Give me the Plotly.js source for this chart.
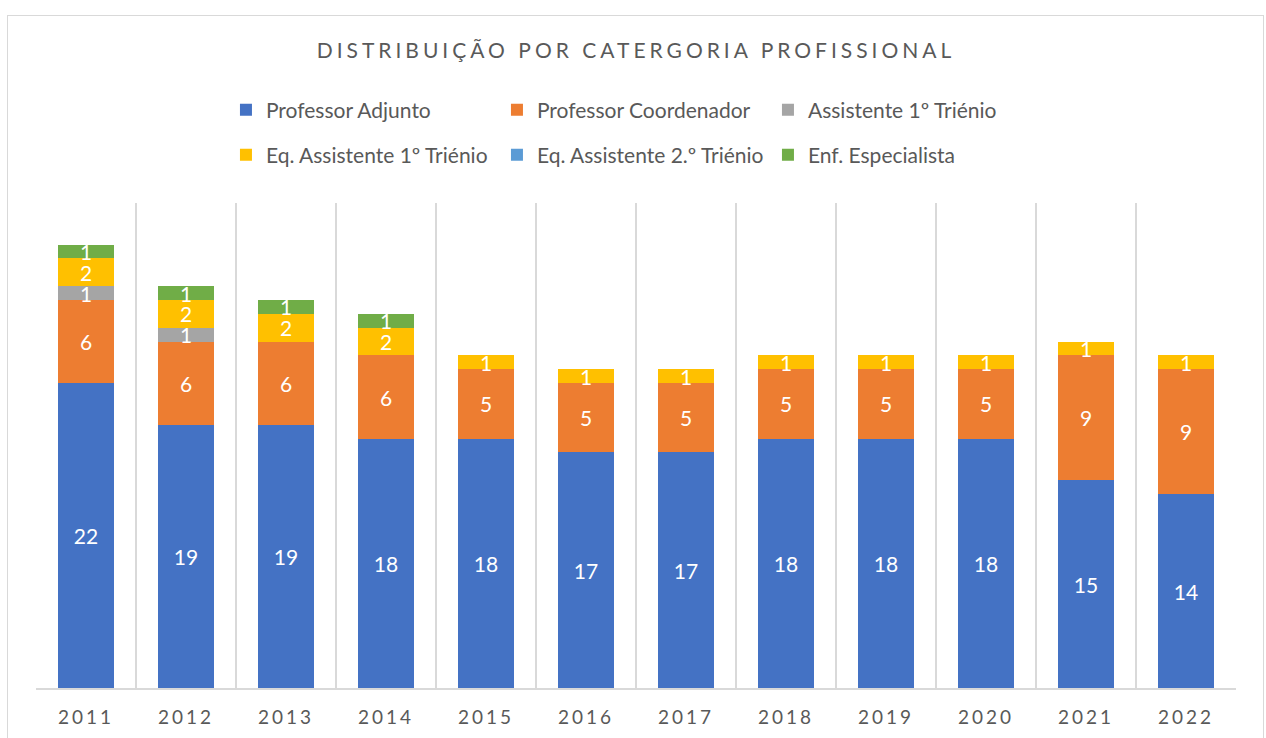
<!DOCTYPE html>
<html>
<head>
<meta charset="utf-8">
<script src="https://cdn.plot.ly/plotly-3.0.1.min.js"></script>
<style>
  html, body { margin: 0; padding: 0; background: #fff; }
  #frame { position: absolute; left: 7px; top: 15px; width: 1257px; height: 760px; border: 1.5px solid #d9d9d9; box-sizing: border-box; pointer-events: none; z-index: 2; }
  #chart { position: absolute; left: 0; top: 0; width: 1266px; height: 738px; }
  .gtitle { letter-spacing: 4px; }
  .xtick text { letter-spacing: 3px; }
</style>
</head>
<body>
<div id="chart"></div>
<div id="frame"></div>
<script>
const years = ['2011','2012','2013','2014','2015','2016','2017','2018','2019','2020','2021','2022'];
const professorAdjunto      = [22,19,19,18,18,17,17,18,18,18,15,14];
const professorCoordenador  = [6,6,6,6,5,5,5,5,5,5,9,9];
const assistente1Trienio    = [1,1,0,0,0,0,0,0,0,0,0,0];
const eqAssistente1Trienio  = [2,2,2,2,1,1,1,1,1,1,1,1];
const eqAssistente2Trienio  = [0,0,0,0,0,0,0,0,0,0,0,0];
const enfEspecialista       = [1,1,1,1,0,0,0,0,0,0,0,0];

const seriesNames = ['Professor Adjunto','Professor Coordenador','Assistente 1º Triénio',
                     'Eq. Assistente 1º Triénio','Eq. Assistente 2.º Triénio','Enf. Especialista'];
const seriesValues = [professorAdjunto, professorCoordenador, assistente1Trienio,
                      eqAssistente1Trienio, eqAssistente2Trienio, enfEspecialista];
const colors = ['#4472C4','#ED7D31','#A5A5A5','#FFC000','#5B9BD5','#70AD47'];

const FONT = 'Lato, "Open Sans", sans-serif';
const GRAY = '#595959';

const traces = seriesValues.map((vals, i) => ({
  type: 'bar',
  name: seriesNames[i],
  x: years,
  y: vals,
  marker: { color: colors[i], line: { width: 0 } },
  text: vals.map(v => v ? String(v) : ''),
  textposition: 'inside',
  insidetextanchor: 'middle',
  constraintext: 'none',
  textangle: 0,
  textfont: { family: FONT, size: 21, color: '#ffffff' },
  hoverinfo: 'x+y+name',
  legend: i < 3 ? 'legend' : 'legend2'
}));

const legendCommon = {
  orientation: 'h',
  xanchor: 'left',
  yanchor: 'middle',
  entrywidth: 226,
  entrywidthmode: 'pixels',
  traceorder: 'normal',
  font: { family: FONT, size: 21, color: GRAY },
  bgcolor: 'rgba(0,0,0,0)'
};

const layout = {
  width: 1266,
  height: 738,
  paper_bgcolor: '#ffffff',
  plot_bgcolor: '#ffffff',
  margin: { l: 36, r: 30, t: 203, b: 50 },
  barmode: 'stack',
  bargap: 0.44,
  title: {
    text: 'DISTRIBUIÇÃO POR CATERGORIA PROFISSIONAL',
    font: { family: FONT, size: 21, color: GRAY },
    x: 0.5, xanchor: 'center', xref: 'paper',
    y: 1 - 51/738, yanchor: 'middle', yref: 'container'
  },
  xaxis: {
    type: 'category',
    tickson: 'boundaries',
    showgrid: true,
    gridcolor: '#d9d9d9',
    gridwidth: 1.5,
    showline: true,
    linecolor: '#d9d9d9',
    linewidth: 1.5,
    ticks: '',
    ticklabelstandoff: 12,
    tickfont: { family: FONT, size: 19, color: GRAY },
    fixedrange: true
  },
  yaxis: {
    range: [0, 35],
    visible: false,
    showgrid: false,
    zeroline: false,
    fixedrange: true
  },
  legend: Object.assign({}, legendCommon, { x: 0.1583, y: (688-110)/485 }),
  legend2: Object.assign({}, legendCommon, { x: 0.1583, y: (688-155)/485 }),
  showlegend: true
};

Plotly.newPlot('chart', traces, layout, { displayModeBar: false, staticPlot: true });
</script>
</body>
</html>
